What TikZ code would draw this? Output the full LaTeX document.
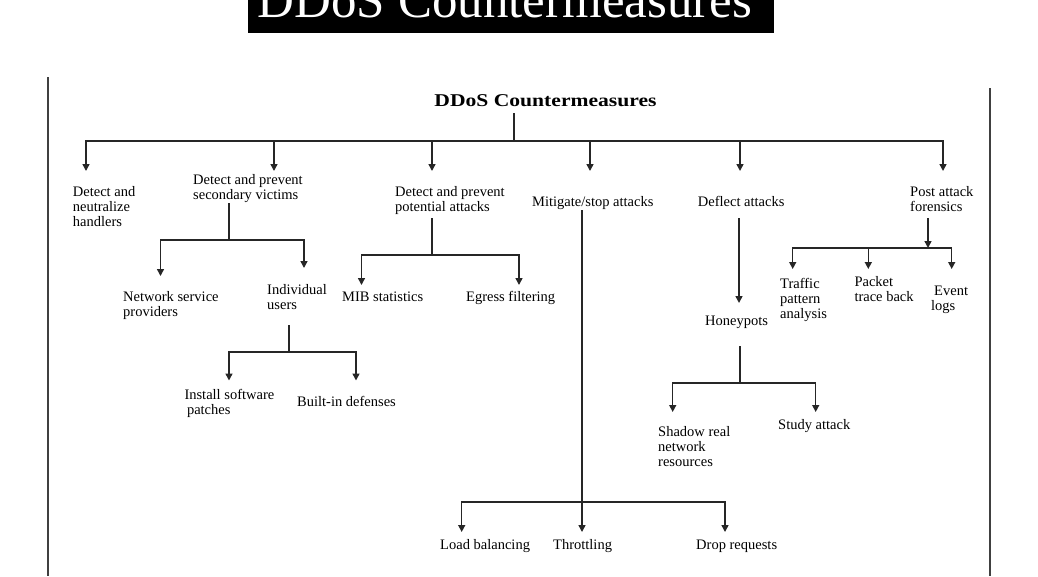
\documentclass[tikz,border=0pt]{standalone}
\usepackage{fontspec}
\setmainfont{Liberation Serif}
\newfontfamily\rootfont[FakeStretch=1.2]{Liberation Serif}
\usetikzlibrary{arrows.meta}
\begin{document}
\begin{tikzpicture}[x=1pt,y=-1pt,
  lbl/.style={inner sep=0pt, align=left, font=\fontsize{14.5}{15}\selectfont, anchor=base west},
  conn/.style={line width=1.5pt, draw=black!85},
  arr/.style={conn, -{Triangle[width=7pt,length=7pt]}},
  side/.style={line width=1.8pt, draw=black!75}]
\useasboundingbox (0,0) rectangle (1038,576);
% banner
\fill[black] (248,-60) rectangle (774,33);
\node[font=\fontsize{51}{51}\selectfont, text=white, anchor=base, inner sep=0pt] (banner) at (505,17) {DDoS Countermeasures};
% side lines
\draw[side] (47.7,77) -- (47.7,576);
\draw[side] (990,88) -- (990,576);
% root
\node[font=\rootfont\bfseries\fontsize{18}{20}\selectfont, inner sep=0pt, anchor=base] (root) at (545.5,106) {DDoS Countermeasures};
% level 1 (base anchor = baseline of the last line)
\node[lbl] (h1) at (72.7,226.7) {Detect and\\neutralize\\handlers};
\node[lbl] (h2) at (193,199) {Detect and prevent\\secondary victims};
\node[lbl] (h3) at (395,211.7) {Detect and prevent\\potential attacks};
\node[lbl] (h4) at (532,206) {Mitigate/stop attacks};
\node[lbl] (h5) at (697.7,206) {Deflect attacks};
\node[lbl] (h6) at (910,211) {Post attack\\forensics};
% level 2
\node[lbl] (n1) at (123,316) {Network service\\providers};
\node[lbl] (n2) at (267,309) {Individual\\users};
\node[lbl] (n3) at (184.3,414) {Install software\\\hspace*{2.5pt}patches};
\node[lbl] (n4) at (297,406.7) {Built-in defenses};
\node[lbl] (m1) at (342,301) {MIB statistics};
\node[lbl] (m2) at (466,301) {Egress filtering};
\node[lbl] (l1) at (440,549) {Load balancing};
\node[lbl] (l2) at (553,549) {Throttling};
\node[lbl] (l3) at (696,549) {Drop requests};
\node[lbl] (hp) at (705,325) {Honeypots};
\node[lbl] (sh) at (658,466.7) {Shadow real\\network\\resources};
\node[lbl] (st) at (778,429) {Study attack};
\node[lbl] (tp) at (780,318) {Traffic\\pattern\\analysis};
\node[lbl] (pt) at (854.3,301.7) {Packet\\trace back};
\node[lbl] (ev) at (931,310.7) {\hspace*{3pt}Event\\logs};
% coordinates
\coordinate (s0) at (514,113);
\coordinate (j0) at (514,141);
\coordinate (a1) at (86,171);
\coordinate (a2) at (274,171);
\coordinate (a3) at (432,171);
\coordinate (a4) at (590,171);
\coordinate (a5) at (740,171);
\coordinate (a6) at (943,171);
\coordinate (s2) at (229,203);
\coordinate (j2) at (229,240);
\coordinate (b1) at (160.5,276);
\coordinate (b2) at (304,268);
\coordinate (s2b) at (289,325);
\coordinate (j2b) at (289,352);
\coordinate (c1) at (229,380.5);
\coordinate (c2) at (356,380.5);
\coordinate (s3) at (432,218);
\coordinate (j3) at (432,255);
\coordinate (d1) at (361.5,285);
\coordinate (d2) at (519,285);
\coordinate (s4) at (582,210);
\coordinate (j4) at (582,502);
\coordinate (e1) at (461.7,532);
\coordinate (e2) at (582,532);
\coordinate (e3) at (725,532);
\coordinate (s5) at (739,218);
\coordinate (f1) at (739,303);
\coordinate (s5b) at (740,346);
\coordinate (j5b) at (740,383);
\coordinate (g1) at (672.7,412);
\coordinate (g2) at (815.7,412);
\coordinate (s6) at (928,218);
\coordinate (j6) at (928,248);
\coordinate (k1) at (792.7,269);
\coordinate (k2) at (868.3,269);
\coordinate (k3) at (951.7,269);
% connectors
\draw[conn] (s0) -- (j0);
\foreach \t in {a1,a2,a3,a4,a5,a6} \draw[arr] (j0) -| (\t);
\draw[conn] (s2) -- (j2);
\draw[arr] (j2) -| (b1);
\draw[arr] (j2) -| (b2);
\draw[conn] (s2b) -- (j2b);
\draw[arr] (j2b) -| (c1);
\draw[arr] (j2b) -| (c2);
\draw[conn] (s3) -- (j3);
\draw[arr] (j3) -| (d1);
\draw[arr] (j3) -| (d2);
\draw[conn] (s4) -- (j4);
\draw[arr] (j4) -| (e1);
\draw[arr] (j4) -- (e2);
\draw[arr] (j4) -| (e3);
\draw[arr] (s5) -- (f1);
\draw[conn] (s5b) -- (j5b);
\draw[arr] (j5b) -| (g1);
\draw[arr] (j5b) -| (g2);
\draw[arr] (s6) -- (j6);
\draw[arr] (j6) -| (k1);
\draw[arr] (j6) -| (k2);
\draw[arr] (j6) -| (k3);
\end{tikzpicture}
\end{document}
